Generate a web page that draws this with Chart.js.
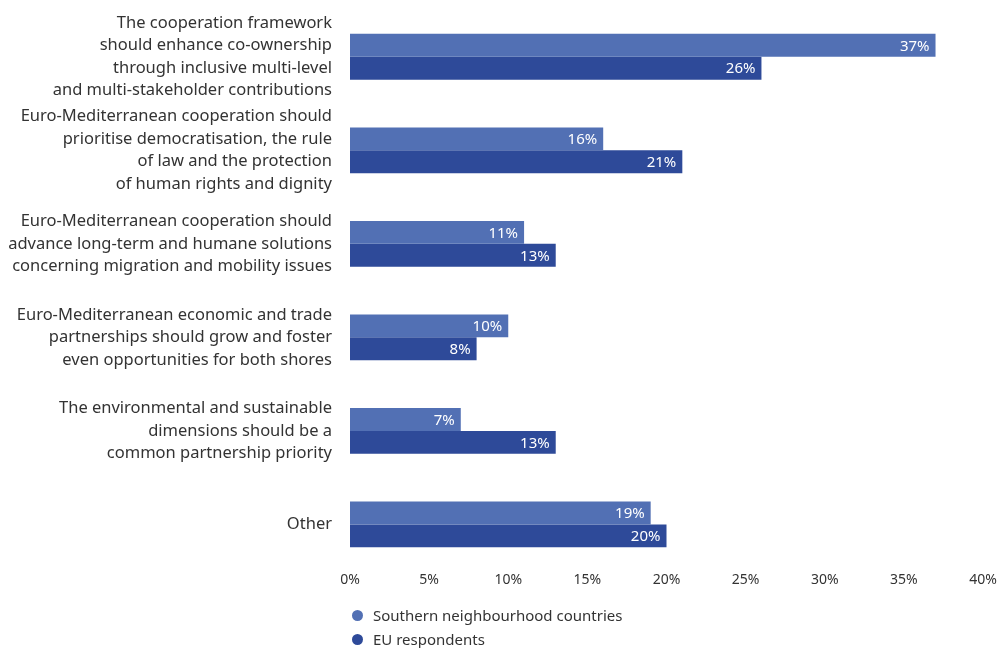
<!DOCTYPE html>
<html>
<head>
<meta charset="utf-8">
<script src="https://cdn.jsdelivr.net/npm/chart.js@4.4.1/dist/chart.umd.min.js"></script>
<style>
    body { margin: 0; background: #fff; font-family: "Noto Sans", sans-serif; }
    #wrap { position: relative; width: 1001px; height: 648px; }
    #legend { position: absolute; left: 352px; top: 603px; font-size: 15px; color: #333; }
    .item { display: flex; align-items: center; height: 24px; }
    .dot { width: 11px; height: 11px; border-radius: 50%; margin-right: 10px; }
</style>
</head>
<body>
<div id="wrap">
    <canvas id="chart" width="1001" height="648"></canvas>
    <div id="legend"></div>
</div>
<script>
const categories = [
    ['The cooperation framework', 'should enhance co-ownership', 'through inclusive multi-level', 'and multi-stakeholder contributions'],
    ['Euro-Mediterranean cooperation should', 'prioritise democratisation, the rule', 'of law and the protection', 'of human rights and dignity'],
    ['Euro-Mediterranean cooperation should', 'advance long-term and humane solutions', 'concerning migration and mobility issues'],
    ['Euro-Mediterranean economic and trade', 'partnerships should grow and foster', 'even opportunities for both shores'],
    ['The environmental and sustainable', 'dimensions should be a', 'common partnership priority'],
    'Other'
];
const southern = [37, 16, 11, 10, 7, 19];
const euResp = [26, 21, 13, 8, 13, 20];
const xTicks = [0, 5, 10, 15, 20, 25, 30, 35, 40];

const LIGHT = '#5270b4';
const DARK = '#2e4a99';
const FONT = '"Noto Sans", sans-serif';

// white value labels at the end of each bar
const barLabels = {
    id: 'barLabels',
    afterDatasetsDraw(chart) {
        const ctx = chart.ctx;
        ctx.save();
        ctx.fillStyle = '#fff';
        ctx.font = '15px ' + FONT;
        ctx.textAlign = 'right';
        ctx.textBaseline = 'middle';
        chart.data.datasets.forEach((ds, i) => {
            chart.getDatasetMeta(i).data.forEach((bar, j) => {
                ctx.fillText(ds.data[j] + '%', bar.x - 6, bar.y + 1);
            });
        });
        ctx.restore();
    }
};

const chart = new Chart(document.getElementById('chart'), {
    type: 'bar',
    data: {
        labels: categories,
        datasets: [
            { label: 'Southern neighbourhood countries', data: southern, backgroundColor: LIGHT },
            { label: 'EU respondents', data: euResp, backgroundColor: DARK }
        ]
    },
    options: {
        indexAxis: 'y',
        responsive: false,
        animation: false,
        layout: { padding: { top: 10, right: 18, left: 0, bottom: 60 } },
        datasets: { bar: { barPercentage: 1, categoryPercentage: 0.49 } },
        plugins: { legend: { display: false }, tooltip: { enabled: false } },
        scales: {
            x: {
                min: 0, max: 40,
                afterBuildTicks: axis => { axis.ticks = xTicks.map(v => ({ value: v })); },
                grid: { display: false, tickLength: 0 },
                border: { display: false },
                ticks: {
                    color: '#333',
                    font: { family: FONT, size: 14 },
                    padding: 0,
                    callback: v => v + '%'
                }
            },
            y: {
                grid: { display: false },
                border: { display: false },
                afterFit: axis => {
                    axis.width = 350;
                    axis.paddingTop = 0;
                    axis.paddingBottom = 0;
                },
                ticks: {
                    color: '#333',
                    padding: 10,
                    autoSkip: false,
                    font: { family: FONT, size: 16.5, lineHeight: 1.36 }
                }
            }
        }
    },
    plugins: [barLabels]
});

const legend = document.getElementById('legend');
chart.data.datasets.forEach(ds => {
    const row = document.createElement('div');
    row.className = 'item';
    row.innerHTML = `<span class="dot" style="background:${ds.backgroundColor}"></span>${ds.label}`;
    legend.appendChild(row);
});
</script>
</body>
</html>
